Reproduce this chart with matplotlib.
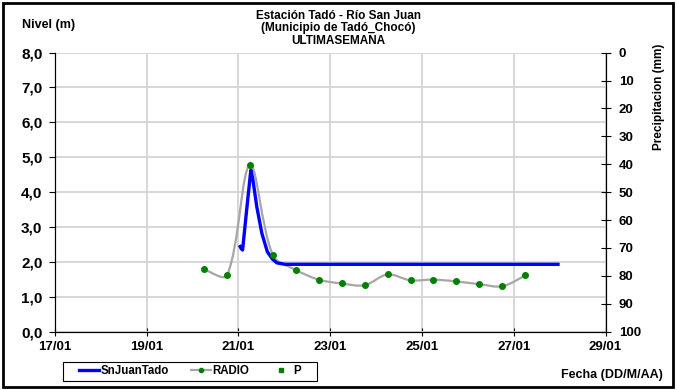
import matplotlib.pyplot as plt
import numpy as np
from matplotlib.path import Path
from matplotlib.patches import PathPatch, Rectangle
from matplotlib.lines import Line2D

plt.rcParams['font.family'] = ['Liberation Sans', 'DejaVu Sans']
plt.rcParams['font.weight'] = 'bold'

# dias de enero (hora como fraccion del dia)
radio_dia = [20.25, 20.75, 21.25, 21.75, 22.25, 22.75, 23.25, 23.75,
             24.25, 24.75, 25.25, 25.75, 26.25, 26.75, 27.25]
radio_nivel = [1.79, 1.61, 4.78, 2.19, 1.77, 1.49, 1.38, 1.33,
               1.64, 1.47, 1.49, 1.44, 1.36, 1.30, 1.61]

sensor_dia = [21.02, 21.06, 21.09, 21.18, 21.27, 21.31, 21.40, 21.51,
              21.63, 21.74, 21.84, 22.02, 28.0]
sensor_nivel = [2.48, 2.38, 2.34, 3.50, 4.63, 4.40, 3.58, 2.82,
                2.29, 2.08, 1.97, 1.93, 1.93]

x_ticks = [17, 19, 21, 23, 25, 27, 29]
x_labels = ['17/01', '19/01', '21/01', '23/01', '25/01', '27/01', '29/01']
nivel_ticks = np.arange(0, 9, 1)
precip_ticks = np.arange(0, 101, 10)


def smooth_path(ax, xs, ys, s=1.0 / 3.0):
    # curva suavizada tipo Excel: Bezier con tangentes ponderadas por la
    # longitud de los tramos (medida en pixeles)
    pts = np.column_stack([xs, ys])
    disp = ax.transData.transform(pts)
    n = len(pts)
    d = np.hypot(*np.diff(disp, axis=0).T)
    verts = [pts[0]]
    codes = [Path.MOVETO]
    for i in range(n - 1):
        p1 = pts[i]
        p2 = pts[i + 1]
        if i > 0:
            c1 = p1 + (p2 - pts[i - 1]) * d[i] / (d[i - 1] + d[i]) * s
        else:
            c1 = p1 + (p2 - p1) * s * 0.5
        if i + 2 < n:
            c2 = p2 - (pts[i + 2] - p1) * d[i] / (d[i] + d[i + 1]) * s
        else:
            c2 = p2 - (p2 - p1) * s * 0.5
        verts += [c1, c2, p2]
        codes += [Path.CURVE4] * 3
    return Path(verts, codes)


fig = plt.figure(figsize=(6.77, 3.90), dpi=100)
ax = fig.add_axes([0.0811, 0.1497, 0.8133, 0.7154])

ax.set_xlim(17, 29)
ax.set_ylim(0, 8)
ax.set_xticks(x_ticks, labels=x_labels, fontweight='bold', fontsize=9.5)
ax.set_yticks(nivel_ticks, labels=[('%.1f' % v).replace('.', ',') for v in nivel_ticks],
              fontweight='bold', fontsize=11)
ax.grid(True, color='#d4d4d4', linewidth=1.3)
ax.set_axisbelow(True)
ax.tick_params(axis='both', length=4, color='black')
ax.tick_params(axis='y', direction='out', pad=5)
ax.tick_params(axis='x', direction='inout', length=6, pad=4)
ax.spines['top'].set_visible(False)

# RADIO: linea gris suavizada con puntos verdes
ax.add_patch(PathPatch(smooth_path(ax, radio_dia, radio_nivel), facecolor='none',
                       edgecolor='#a6a6a6', linewidth=1.6, zorder=3))
ax.plot(radio_dia, radio_nivel, linestyle='none', marker='o', markersize=4,
        color='#008000', zorder=5)

# SnJuanTado
ax.plot(sensor_dia, sensor_nivel, color='#0000ff', linewidth=2.4, zorder=4,
        solid_joinstyle='round', solid_capstyle='butt')

ax2 = ax.twinx()
ax2.set_ylim(100, 0)
ax2.set_yticks(precip_ticks, labels=[str(v) for v in precip_ticks],
               fontweight='bold', fontsize=9.5)
ax2.tick_params(axis='y', direction='inout', length=7, pad=6)
ax2.spines['top'].set_visible(False)
ax2.set_ylabel('Precipitacion (mm)', fontsize=8.5, fontweight='bold')
ax2.yaxis.set_label_coords(1.087, 0.84)

fig.text(0.5, 0.960, 'Estación Tadó - Río San Juan', ha='center', va='center',
         fontsize=8.5, fontweight='bold')
fig.text(0.5, 0.928, '(Municipio de Tadó_Chocó)', ha='center', va='center',
         fontsize=8.5, fontweight='bold')
fig.text(0.5, 0.896, 'ULTIMASEMANA', ha='center', va='center',
         fontsize=8.5, fontweight='bold')
fig.text(0.033, 0.935, 'Nivel (m)', ha='left', va='center',
         fontsize=9, fontweight='bold')
fig.text(0.979, 0.038, 'Fecha (DD/M/AA)', ha='right', va='center',
         fontsize=9, fontweight='bold')

handles = [Line2D([], [], color='#0000ff', linewidth=2.4),
           Line2D([], [], color='#a6a6a6', linewidth=1.6, marker='o',
                  markersize=3, markerfacecolor='#008000',
                  markeredgecolor='#008000'),
           Line2D([], [], linestyle='none', marker='s', markersize=2.5,
                  color='#008000')]
leg = fig.legend(handles, ['SnJuanTado', 'RADIO', 'P'], ncol=3,
                 loc='center', bbox_to_anchor=(0.2802, 0.0479),
                 prop={'size': 8.3, 'weight': 'bold'}, frameon=False,
                 handlelength=1.75, handletextpad=0.15, columnspacing=1.9,
                 borderpad=0.0)
fig.patches.append(Rectangle((0.0926, 0.0231), 0.3752, 0.0495,
                             transform=fig.transFigure, fill=False,
                             edgecolor='black', linewidth=0.8))

fig.patches.append(Rectangle((0.004, 0.008), 0.990, 0.984, transform=fig.transFigure,
                             fill=False, edgecolor='black', linewidth=2))

fig.savefig('out.png', dpi=100)
